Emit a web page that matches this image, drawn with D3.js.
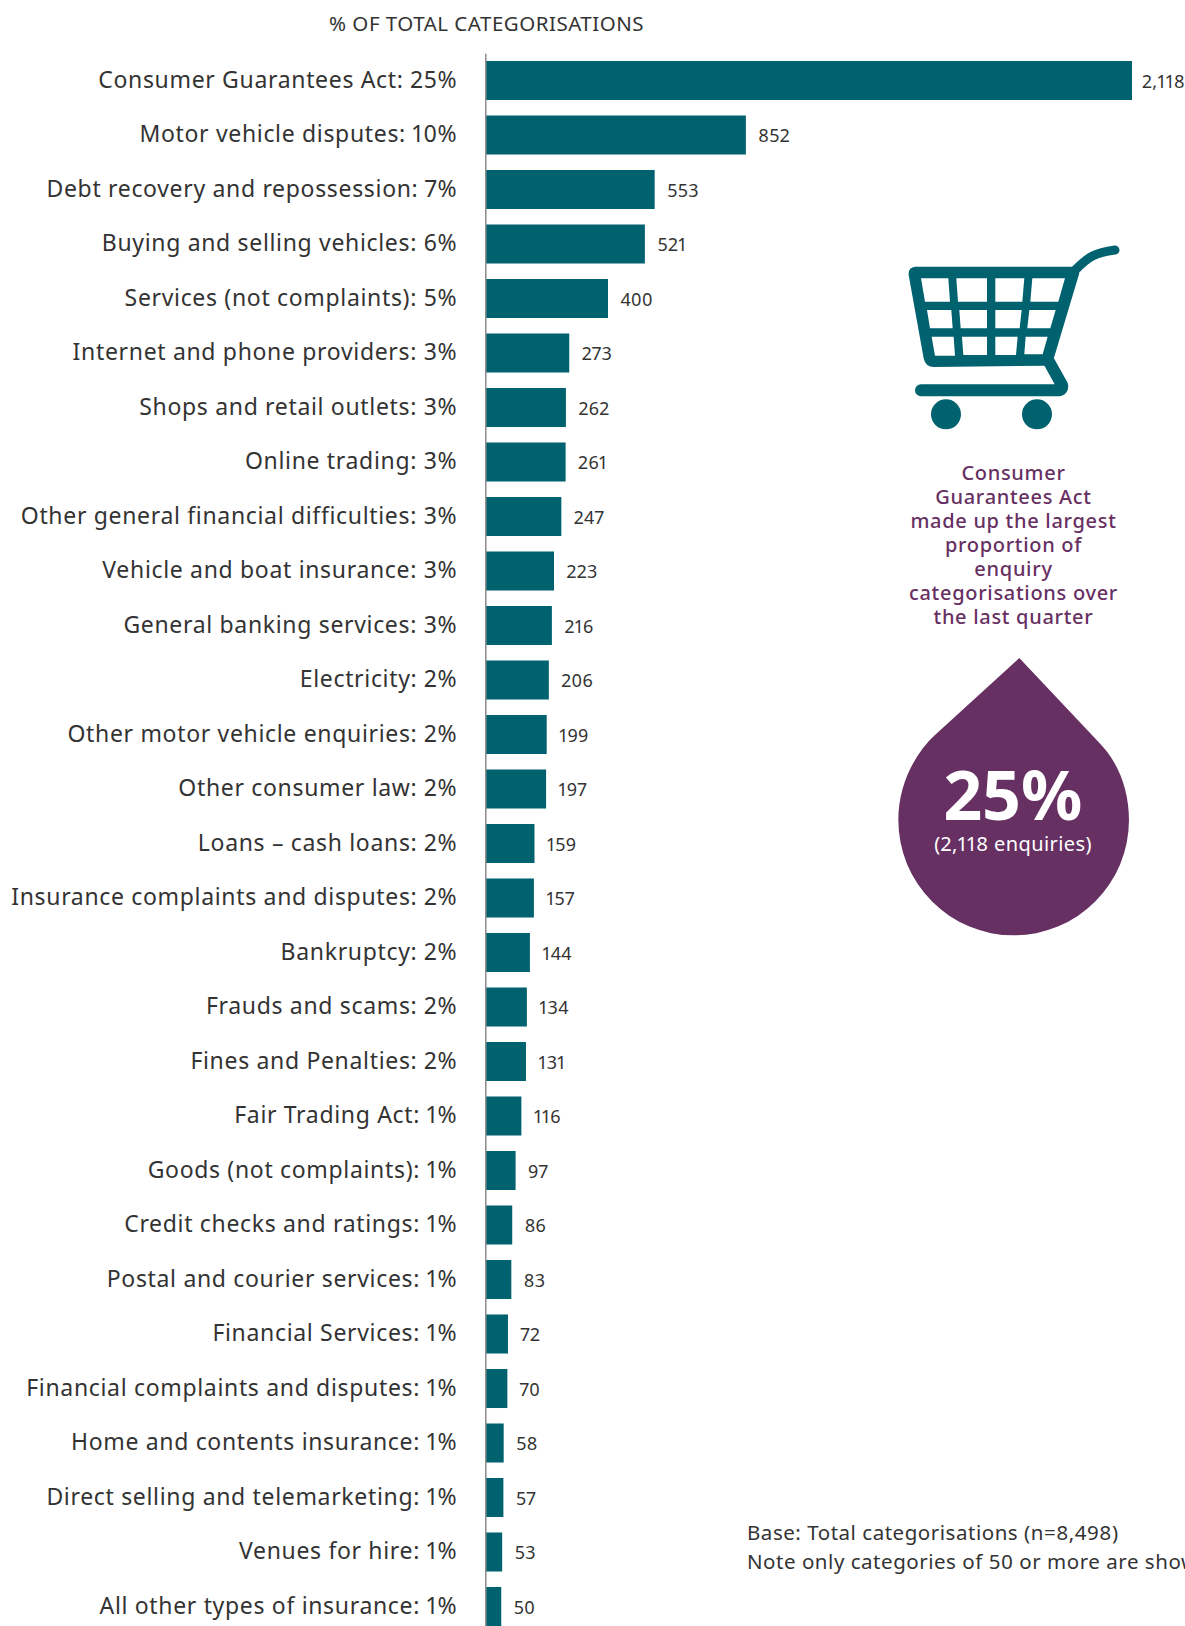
<!DOCTYPE html>
<html>
<head>
<meta charset="utf-8">
<script src="https://cdn.jsdelivr.net/npm/d3@7/dist/d3.min.js"></script>
<style>
html,body{margin:0;padding:0;background:#fff;overflow:hidden}
svg{display:block}
text{font-family:"Noto Sans",sans-serif;font-variant-numeric:proportional-nums}
</style>
</head>
<body>
<svg id="chart" width="1185" height="1626"></svg>
<script>
// Enquiry categories, their share of the total and their counts
const categories = ["Consumer Guarantees Act","Motor vehicle disputes","Debt recovery and repossession","Buying and selling vehicles","Services (not complaints)","Internet and phone providers","Shops and retail outlets","Online trading","Other general financial difficulties","Vehicle and boat insurance","General banking services","Electricity","Other motor vehicle enquiries","Other consumer law","Loans – cash loans","Insurance complaints and disputes","Bankruptcy","Frauds and scams","Fines and Penalties","Fair Trading Act","Goods (not complaints)","Credit checks and ratings","Postal and courier services","Financial Services","Financial complaints and disputes","Home and contents insurance","Direct selling and telemarketing","Venues for hire","All other types of insurance"];
const shares = [25,10,7,6,5,3,3,3,3,3,3,2,2,2,2,2,2,2,2,1,1,1,1,1,1,1,1,1,1];
const counts = [2118,852,553,521,400,273,262,261,247,223,216,206,199,197,159,157,144,134,131,116,97,86,83,72,70,58,57,53,50];
const calloutLines = ["Consumer","Guarantees Act","made up the largest","proportion of","enquiry","categorisations over","the last quarter"];
const footnotes = ["Base: Total categorisations (n=8,498)","Note only categories of 50 or more are shown"];

const TEAL = "#00626f", PURPLE = "#673063", INK = "#333333";
const svg = d3.select("#chart");

const x = d3.scaleLinear().domain([0, 2118]).range([486, 1132]);
const y = d3.scaleBand().domain(categories).range([53.25, 1633.75]).paddingInner(0.284).paddingOuter(0.142);

svg.append("text").attr("x", 329).attr("y", 31).attr("font-size", 20.5).attr("letter-spacing", 0.5).attr("fill", INK)
  .text("% OF TOTAL CATEGORISATIONS");

// Bars
svg.append("g").selectAll("rect").data(categories).join("rect")
  .attr("x", x(0)).attr("y", d => y(d)).attr("height", y.bandwidth())
  .attr("width", (d, i) => x(counts[i]) - x(0)).attr("fill", TEAL);

// Category axis with the share appended to each label
const shareOf = new Map(categories.map((c, i) => [c, shares[i]]));
const axis = svg.append("g").attr("transform", `translate(${x(0) - 0.7},0)`)
  .call(d3.axisLeft(y).tickSize(0).tickPadding(28).tickFormat(c => `${c}: ${shareOf.get(c)}%`));
axis.select(".domain").attr("stroke", "#8a8a8a").attr("stroke-width", 1.5);
axis.selectAll("text").attr("font-size", 23).attr("letter-spacing", 0.67).attr("fill", INK)
  .style("font-family", '"Noto Sans",sans-serif').style("font-variant-numeric", "proportional-nums");

// Count labels beside the bars
svg.append("g").selectAll("text").data(categories).join("text")
  .attr("x", (d, i) => x(counts[i]) + (i === 0 ? 10 : 12.5)).attr("y", d => y(d) + y.bandwidth() / 2 + 1)
  .attr("dy", "0.35em").attr("font-size", 18).attr("letter-spacing", 0.3).attr("fill", INK)
  .text((d, i) => d3.format(",")(counts[i]));

// Shopping trolley icon
const cart = svg.append("g").attr("transform", "translate(850,220) scale(0.3333)");
cart.append("path").attr("fill", TEAL).attr("fill-rule", "evenodd").attr("d",
  "M196,140 L668,140 L688,160 L610,420 L590,437 L252,441 Q226,441 221,415 L176,165 Q174,142 196,140 Z" +
  "M213,175L295,175L300,245L225,245Z M319,175L411,175L411,245L324,245Z M436,175L523,175L517,245L436,245Z M547,175L645,175L625,245L541,245Z" +
  "M231,270L304,270L308,325L240,325Z M328,270L411,270L411,325L332,325Z M436,270L515,270L509,325L436,325Z M538,270L617,270L601,325L532,325Z" +
  "M245,350L311,350L315,407L255,407Z M336,350L411,350L411,405L340,405Z M436,350L503,350L498,405L436,405Z M527,350L593,350L578,403L523,403Z");
cart.append("path").attr("fill", "none").attr("stroke", TEAL).attr("stroke-width", 27).attr("stroke-linecap", "round")
  .attr("d", "M676,150 C715,110 735,98 795,90");
cart.append("path").attr("fill", "none").attr("stroke", TEAL).attr("stroke-width", 36).attr("stroke-linecap", "round").attr("stroke-linejoin", "round")
  .attr("d", "M597,425 L636,495 Q640,511 622,511 L213,511");
[288, 561].forEach(cx => cart.append("circle").attr("cx", cx).attr("cy", 583).attr("r", 45).attr("fill", TEAL));

// Callout text
svg.append("g").selectAll("text").data(calloutLines).join("text")
  .attr("x", 1013.5).attr("y", (d, i) => 480 + i * 24).attr("text-anchor", "middle")
  .attr("font-size", 20).attr("letter-spacing", 0.7).attr("font-weight", 500).attr("fill", PURPLE).text(d => d);

// Drop with headline figure
svg.append("g").attr("transform", "translate(860,640) scale(0.3333)").append("path").attr("fill", PURPLE)
  .attr("d", "M478,54 L715,305 C775,365 807,450 807,540 A346,346 0 1 1 115,540 C115,440 160,345 225,285 Z");
svg.append("text").attr("x", 1013).attr("y", 820).attr("text-anchor", "middle").attr("font-size", 68)
  .attr("font-weight", 700).attr("fill", "#fff").text(shares[0] + "%");
svg.append("text").attr("x", 1013).attr("y", 851).attr("text-anchor", "middle").attr("font-size", 20)
  .attr("letter-spacing", 0.4).attr("fill", "#fff").text(`(${d3.format(",")(counts[0])} enquiries)`);

// Footnotes
svg.append("g").selectAll("text").data(footnotes).join("text")
  .attr("x", 747).attr("y", (d, i) => 1540 + i * 29).attr("font-size", 20.5).attr("letter-spacing", 0.53).attr("fill", INK).text(d => d);
</script>
</body>
</html>
